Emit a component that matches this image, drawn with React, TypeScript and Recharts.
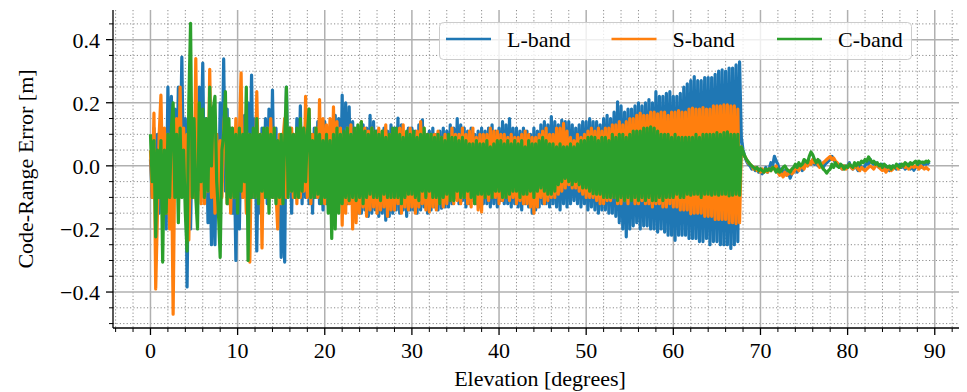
import { LineChart, Line, XAxis, YAxis, CartesianGrid, Legend } from "recharts";

// samples are spaced evenly in elevation, starting at 0 deg
const ELEVATION_STEP = 0.2;

// one row = 2 degrees of elevation
const L_BAND = [
  0.02, -0.1, 0.12, -0.08, 0.1, -0.15, 0.13, -0.12, 0.08, -0.2,
  0.25, -0.05, 0.22, -0.1, 0.18, -0.08, 0.25, 0.0, 0.345, -0.05,
  0.15, -0.384, 0.1, -0.2, 0.12, -0.1, 0.2, -0.05, 0.25, 0.02,
  0.326, -0.1, 0.15, -0.18, 0.05, -0.25, 0.08, -0.25, 0.1, -0.15,
  0.2, -0.05, 0.339, -0.08, 0.18, -0.12, 0.12, -0.15, 0.05, -0.3,
  0.08, -0.2, 0.12, -0.1, 0.16, -0.08, 0.2, -0.05, 0.288, -0.1,
  0.15, -0.27, 0.1, -0.15, 0.12, -0.1, 0.15, -0.12, 0.18, -0.08,
  0.24, -0.1, 0.12, -0.15, 0.08, -0.29, 0.0, -0.305, 0.25, -0.05,
  0.12, -0.15, 0.1, -0.1, 0.15, -0.06, 0.19, -0.12, 0.12, -0.1,
  0.15, -0.12, 0.1, -0.15, 0.12, -0.1, 0.14, -0.12, 0.12, -0.14,
  0.14, -0.12, 0.12, -0.1, 0.13, -0.14, 0.16, -0.12, 0.15, -0.1,
  0.224, -0.14, 0.2, -0.12, 0.187, -0.1, 0.14, -0.13, 0.12, -0.15,
  0.1, -0.15, 0.13, -0.14, 0.12, -0.16, 0.16, -0.15, 0.14, -0.14,
  0.11, -0.16, 0.1, -0.15, 0.12, -0.172, 0.11, -0.16, 0.13, -0.15,
  0.12, -0.14, 0.151, -0.15, 0.13, -0.14, 0.1, -0.16, 0.12, -0.14,
  0.12, -0.14, 0.11, -0.15, 0.13, -0.14, 0.146, -0.13, 0.1, -0.15,
  0.11, -0.14, 0.12, -0.13, 0.1, -0.14, 0.11, -0.134, 0.12, -0.13,
  0.11, -0.13, 0.13, -0.12, 0.12, -0.1, 0.15, -0.12, 0.13, -0.11,
  0.12, -0.13, 0.11, -0.12, 0.12, -0.11, 0.1, -0.12, 0.11, -0.13,
  0.12, -0.12, 0.11, -0.12, 0.12, -0.13, 0.13, -0.12, 0.11, -0.13,
  0.12, -0.11, 0.14, -0.12, 0.13, -0.12, 0.15, -0.13, 0.12, -0.12,
  0.12, -0.13, 0.11, -0.14, 0.12, -0.12, 0.11, -0.13, 0.1, -0.15,
  0.12, -0.14, 0.11, -0.13, 0.13, -0.12, 0.14, -0.12, 0.13, -0.13,
  0.156, -0.12, 0.14, -0.13, 0.13, -0.14, 0.145, -0.12, 0.14, -0.13,
  0.14, -0.12, 0.13, -0.11, 0.12, -0.12, 0.13, -0.13, 0.14, -0.12,
  0.14, -0.14, 0.15, -0.13, 0.14, -0.14, 0.14, -0.15, 0.13, -0.14,
  0.15, -0.14, 0.16, -0.15, 0.15, -0.15, 0.17, -0.16, 0.203, -0.18,
  0.19, -0.2, 0.17, -0.225, 0.18, -0.2, 0.18, -0.19, 0.19, -0.18,
  0.2, -0.2, 0.19, -0.19, 0.2, -0.19, 0.21, -0.2, 0.2, -0.2,
  0.235, -0.21, 0.22, -0.2, 0.22, -0.21, 0.23, -0.22, 0.235, -0.22,
  0.22, -0.236, 0.22, -0.22, 0.23, -0.22, 0.25, -0.22, 0.26, -0.23,
  0.27, -0.23, 0.283, -0.23, 0.27, -0.24, 0.27, -0.24, 0.28, -0.23,
  0.28, -0.25, 0.28, -0.24, 0.29, -0.24, 0.3, -0.25, 0.304, -0.25,
  0.3, -0.25, 0.31, -0.262, 0.31, -0.25, 0.32, -0.24, 0.33, 0.09,
  0.05, 0.03, 0.015, 0.005, 0.0, -0.01, -0.005, -0.015, -0.01, -0.02,
  -0.01, -0.025, -0.015, -0.005, -0.02, -0.01, 0.01, 0.0, 0.03, 0.015,
  0.005, -0.02, -0.01, -0.025, -0.015, -0.03, -0.02, -0.039, -0.025, -0.02,
  -0.005, -0.02, -0.01, 0.0, -0.015, -0.005, 0.01, 0.0, 0.015, 0.005,
  0.02, 0.005, 0.01, 0.0, 0.015, 0.0, -0.005, 0.005, 0.01, 0.015,
  0.02, 0.03, 0.02, 0.01, 0.0, 0.005, -0.005, -0.01, 0.0, -0.005,
  0.0, 0.01, -0.005, -0.01, 0.0, -0.005, -0.015, 0.005, -0.005, -0.01,
  0.0, 0.01, 0.005, 0.02, 0.01, 0.005, 0.01, 0.0, -0.005, 0.005,
  0.005, -0.01, 0.0, -0.005, -0.015, -0.005, 0.0, -0.005, -0.01, 0.0,
  0.005, -0.005, 0.0, -0.01, -0.005, 0.005, -0.01, 0.0, -0.014, -0.005,
  0.0, 0.005, -0.005, 0.0, 0.01, 0.005, 0.01, 0.005,
];

const S_BAND = [
  0.05, -0.1, 0.167, -0.39, -0.15, 0.1, 0.224, -0.05, 0.12, -0.15,
  0.1, -0.2, 0.05, -0.47, 0.05, 0.15, -0.1, 0.25, -0.05, 0.12,
  -0.05, 0.1, -0.235, 0.05, 0.1, -0.1, 0.34, -0.08, 0.15, -0.12,
  0.15, -0.12, 0.1, -0.08, 0.306, -0.1, 0.12, -0.15, 0.1, -0.15,
  0.08, -0.1, 0.12, 0.2, -0.12, 0.1, -0.15, 0.12, -0.1, 0.15,
  -0.05, 0.1, 0.295, -0.1, 0.05, -0.15, 0.1, -0.305, 0.08, 0.1,
  -0.1, 0.235, -0.05, 0.1, -0.26, 0.1, -0.08, 0.12, -0.1, 0.15,
  -0.1, 0.12, -0.08, -0.2, 0.1, -0.12, 0.08, 0.15, -0.1, 0.12,
  -0.08, 0.12, -0.1, 0.1, -0.12, 0.08, -0.1, 0.12, -0.08, 0.22,
  -0.1, 0.18, -0.12, 0.1, -0.08, 0.12, -0.1, 0.21, -0.1, 0.15,
  -0.12, 0.13, -0.1, 0.15, -0.12, 0.187, -0.1, 0.14, -0.12, 0.12,
  -0.188, 0.1, -0.15, 0.12, -0.12, 0.13, -0.2, 0.1, -0.18, 0.12,
  -0.15, 0.14, -0.13, 0.12, -0.16, 0.11, -0.14, 0.12, -0.13, 0.1,
  -0.15, 0.12, -0.14, 0.11, -0.13, 0.13, -0.16, 0.1, -0.14, 0.11,
  -0.14, 0.11, -0.12, 0.12, -0.15, 0.13, -0.13, 0.1, -0.14, 0.12,
  -0.13, 0.1, -0.15, 0.11, -0.13, 0.14, -0.12, 0.12, -0.14, 0.1,
  -0.146, 0.1, -0.13, 0.1, -0.14, 0.11, -0.12, 0.09, -0.13, 0.1,
  -0.12, 0.09, -0.11, 0.12, -0.12, 0.1, -0.11, 0.1, -0.12, 0.12,
  -0.1, 0.1, -0.12, 0.11, -0.13, 0.12, -0.12, 0.09, -0.14, 0.1,
  -0.146, 0.1, -0.1, 0.1, -0.11, 0.12, -0.1, 0.11, -0.1, 0.11,
  -0.12, 0.1, -0.11, 0.1, -0.1, 0.09, -0.11, 0.1, -0.1, 0.09,
  -0.12, 0.09, -0.11, 0.1, -0.12, 0.11, -0.12, 0.1, -0.13, 0.09,
  -0.15, 0.09, -0.13, 0.1, -0.1, 0.11, -0.12, 0.12, -0.11, 0.1,
  -0.1, 0.1, -0.1, 0.12, -0.09, 0.12, -0.08, 0.135, -0.07, 0.11,
  -0.06, 0.09, -0.07, 0.08, -0.07, 0.1, -0.08, 0.09, -0.09, 0.1,
  -0.1, 0.11, -0.1, 0.12, -0.1, 0.11, -0.11, 0.12, -0.12, 0.11,
  -0.12, 0.12, -0.11, 0.12, -0.11, 0.13, -0.1, 0.13, -0.12, 0.14,
  -0.12, 0.13, -0.11, 0.14, -0.12, 0.15, -0.1, 0.15, -0.12, 0.16,
  -0.12, 0.167, -0.11, 0.16, -0.12, 0.16, -0.12, 0.17, -0.13, 0.17,
  -0.12, 0.165, -0.12, 0.17, -0.13, 0.17, -0.13, 0.16, -0.12, 0.17,
  -0.13, 0.17, -0.13, 0.175, -0.14, 0.17, -0.14, 0.17, -0.14, 0.18,
  -0.152, 0.183, -0.15, 0.18, -0.15, 0.18, -0.15, 0.185, -0.16, 0.18,
  -0.16, 0.18, -0.16, 0.19, -0.17, 0.19, -0.17, 0.19, -0.17, 0.193,
  -0.17, 0.193, -0.18, 0.19, -0.18, 0.19, -0.183, 0.18, -0.18, 0.06,
  0.04, 0.03, 0.02, 0.01, 0.005, 0.0, -0.01, -0.005, -0.015, -0.01,
  -0.02, -0.01, -0.02, -0.015, -0.02, -0.01, -0.015, -0.005, -0.01, 0.0,
  -0.02, -0.03, -0.025, -0.035, -0.02, -0.03, -0.025, -0.015, -0.025, -0.02,
  -0.01, -0.005, -0.015, -0.005, 0.0, -0.01, 0.005, 0.0, 0.015, 0.005,
  0.02, 0.01, 0.015, 0.005, -0.005, 0.005, 0.01, 0.015, 0.02, 0.025,
  0.03, 0.02, 0.025, 0.015, 0.01, 0.0, -0.005, -0.01, 0.0, -0.01,
  -0.005, 0.005, -0.005, -0.01, -0.005, 0.0, -0.01, -0.015, -0.005, -0.01,
  -0.016, -0.01, -0.005, 0.0, -0.005, -0.01, 0.0, 0.005, -0.005, -0.01,
  -0.015, -0.01, -0.02, -0.01, -0.005, -0.015, -0.01, -0.005, 0.0, -0.01,
  -0.005, 0.0, 0.005, -0.005, 0.0, -0.01, -0.005, 0.005, -0.005, 0.0,
  -0.005, -0.01, 0.0, -0.005, -0.01, -0.005, -0.01, -0.014,
];

const C_BAND = [
  0.1, -0.05, 0.08, -0.225, 0.05, -0.1, 0.08, -0.305, 0.05, -0.15,
  0.1, -0.1, 0.12, 0.2, -0.1, 0.1, -0.18, 0.12, -0.1, 0.05,
  -0.15, -0.27, 0.2, 0.452, -0.1, 0.15, -0.1, -0.2, 0.2, -0.05,
  0.18, -0.1, 0.15, -0.08, 0.25, 0.0, 0.18, 0.22, -0.05, -0.15,
  -0.29, 0.05, 0.1, 0.235, -0.12, 0.15, -0.1, 0.12, -0.1, 0.1,
  -0.15, 0.12, -0.08, 0.1, -0.05, 0.25, -0.3, 0.1, -0.1, 0.12,
  -0.1, 0.15, -0.12, 0.1, -0.08, 0.12, -0.1, 0.12, -0.15, 0.1,
  -0.1, 0.12, -0.12, 0.08, -0.1, 0.1, -0.12, 0.08, 0.25, -0.1,
  0.12, -0.08, 0.1, -0.1, 0.12, -0.1, 0.15, -0.08, 0.12, -0.05,
  0.1, 0.18, -0.1, 0.08, -0.1, 0.12, -0.09, 0.1, -0.12, 0.08,
  -0.1, 0.1, -0.15, 0.08, -0.23, 0.1, -0.2, 0.12, -0.15, 0.1,
  -0.12, 0.11, -0.1, 0.12, -0.11, 0.1, -0.1, 0.12, -0.11, 0.13,
  -0.1, 0.14, -0.12, 0.11, -0.1, 0.1, -0.09, 0.12, -0.1, 0.11,
  -0.1, 0.1, -0.11, 0.11, -0.09, 0.09, -0.1, 0.1, -0.1, 0.12,
  -0.1, 0.12, -0.1, 0.1, -0.12, 0.09, -0.1, 0.11, -0.09, 0.1,
  -0.09, 0.11, -0.1, 0.09, -0.11, 0.1, -0.08, 0.12, -0.1, 0.1,
  -0.08, 0.1, -0.1, 0.09, -0.1, 0.1, -0.12, 0.09, -0.1, 0.08,
  -0.09, 0.1, -0.11, 0.09, -0.11, 0.09, -0.08, 0.08, -0.1, 0.09,
  -0.1, 0.08, -0.08, 0.07, -0.1, 0.07, -0.12, 0.08, -0.09, 0.07,
  -0.09, 0.07, -0.1, 0.08, -0.09, 0.06, -0.1, 0.07, -0.08, 0.08,
  -0.08, 0.08, -0.1, 0.07, -0.1, 0.08, -0.09, 0.07, -0.08, 0.08,
  -0.08, 0.07, -0.1, 0.08, -0.09, 0.06, -0.09, 0.08, -0.08, 0.07,
  -0.1, 0.07, -0.08, 0.08, -0.07, 0.09, -0.08, 0.08, -0.09, 0.07,
  -0.09, 0.07, -0.08, 0.06, -0.06, 0.07, -0.05, 0.06, -0.04, 0.06,
  -0.05, 0.07, -0.06, 0.06, -0.05, 0.07, -0.06, 0.08, -0.07, 0.08,
  -0.07, 0.09, -0.08, 0.092, -0.088, 0.09, -0.09, 0.08, -0.09, 0.09,
  -0.1, 0.09, -0.1, 0.08, -0.1, 0.1, -0.1, 0.09, -0.11, 0.1,
  -0.1, 0.1, -0.11, 0.09, -0.1, 0.1, -0.11, 0.11, -0.1, 0.11,
  -0.11, 0.11, -0.1, 0.12, -0.11, 0.12, -0.1, 0.124, -0.11, 0.12,
  -0.11, 0.11, -0.1, 0.1, -0.11, 0.1, -0.1, 0.1, -0.1, 0.09,
  -0.1, 0.1, -0.09, 0.09, -0.1, 0.09, -0.1, 0.09, -0.09, 0.09,
  -0.093, 0.09, -0.09, 0.1, -0.09, 0.09, -0.1, 0.1, -0.09, 0.1,
  -0.09, 0.1, -0.093, 0.1, -0.09, 0.105, -0.093, 0.1, -0.09, 0.105,
  -0.09, 0.108, -0.095, 0.1, -0.093, 0.1, -0.09, 0.1, -0.093, 0.06,
  0.045, 0.03, 0.02, 0.013, 0.005, 0.0, -0.005, -0.01, -0.005, -0.015,
  -0.01, -0.015, -0.02, -0.01, -0.015, -0.01, -0.015, -0.005, -0.01, -0.02,
  -0.01, -0.02, -0.015, -0.005, 0.0, -0.01, -0.015, -0.02, -0.01, -0.005,
  0.005, -0.005, 0.01, 0.0, 0.005, 0.02, 0.015, 0.01, 0.03, 0.044,
  0.035, 0.02, 0.01, 0.02, 0.01, 0.0, -0.01, -0.015, -0.023, -0.015,
  -0.01, 0.005, -0.005, 0.01, 0.0, -0.005, 0.005, 0.0, -0.01, 0.0,
  -0.005, 0.005, 0.0, -0.005, 0.01, 0.0, 0.01, 0.005, 0.015, 0.01,
  0.02, 0.015, 0.028, 0.02, 0.01, 0.015, 0.005, 0.01, 0.0, 0.005,
  -0.005, 0.005, 0.0, -0.005, 0.0, -0.01, 0.0, -0.005, 0.005, 0.0,
  -0.005, 0.005, 0.0, 0.01, 0.005, 0.0, 0.01, 0.005, 0.01, 0.015,
  0.005, 0.015, 0.01, 0.012, 0.01, 0.015, 0.012, 0.018,
];

const X_TICKS = [
  -4, -2, 0, 2, 4, 6, 8, 10, 12, 14, 16, 18, 20, 22, 24, 26, 28, 30, 32, 34,
  36, 38, 40, 42, 44, 46, 48, 50, 52, 54, 56, 58, 60, 62, 64, 66, 68, 70, 72,
  74, 76, 78, 80, 82, 84, 86, 88, 90, 92,
];
const X_MAJOR = [0, 10, 20, 30, 40, 50, 60, 70, 80, 90];
const Y_TICKS = [
  -0.5, -0.45, -0.4, -0.35, -0.3, -0.25, -0.2, -0.15, -0.1, -0.05, 0, 0.05,
  0.1, 0.15, 0.2, 0.25, 0.3, 0.35, 0.4, 0.45,
];
const Y_MAJOR = [-0.4, -0.2, 0, 0.2, 0.4];

const SERIES = [
  { key: "L", name: "L-band", color: "#1f77b4" },
  { key: "S", name: "S-band", color: "#ff7f0e" },
  { key: "C", name: "C-band", color: "#2ca02c" },
];

const FONT = "'Liberation Serif', 'DejaVu Serif', serif";
const X_DOMAIN: [number, number] = [-4.3, 93.7];
const Y_DOMAIN: [number, number] = [-0.514, 0.494];

const isIn = (list: number[], v: number) => list.some((m) => Math.abs(m - v) < 1e-9);
const X_MINOR = X_TICKS.filter((v) => !isIn(X_MAJOR, v));
const Y_MINOR = Y_TICKS.filter((v) => !isIn(Y_MAJOR, v));

const data = L_BAND.map((l, i) => ({
  elevation: Math.round(i * ELEVATION_STEP * 10) / 10,
  L: l,
  S: S_BAND[i],
  C: C_BAND[i],
}));

function XTick(props: any) {
  const { x, y, payload } = props;
  const major = isIn(X_MAJOR, payload.value);
  return (
    <g>
      <line x1={x} x2={x} y1={y} y2={y + (major ? 7 : 4)} stroke="#000" strokeWidth={major ? 1.3 : 1} />
      {major && (
        <text x={x} y={y + 30} textAnchor="middle" fontSize={22} fontFamily={FONT} fill="#000">
          {payload.value}
        </text>
      )}
    </g>
  );
}

function YTick(props: any) {
  const { x, y, payload } = props;
  const v = payload.value as number;
  const major = isIn(Y_MAJOR, v);
  const label = (v < 0 ? "\u2212" : "") + Math.abs(v).toFixed(1);
  return (
    <g>
      <line x1={x} x2={x - (major ? 7 : 4)} y1={y} y2={y} stroke="#000" strokeWidth={major ? 1.3 : 1} />
      {major && (
        <text x={x - 13} y={y + 8} textAnchor="end" fontSize={22} fontFamily={FONT} fill="#000">
          {label}
        </text>
      )}
    </g>
  );
}

function LegendBox() {
  return (
    <svg width={473} height={38} style={{ display: "block" }}>
      <rect x={0.5} y={0.5} width={472} height={37} rx={4} fill="#fff" fillOpacity={0.8} stroke="#cccccc" />
      {SERIES.map((s, i) => (
        <g key={s.key}>
          <line x1={7 + 165.5 * i} x2={52 + 165.5 * i} y1={17} y2={17} stroke={s.color} strokeWidth={2.7} />
          <text x={68 + 165.5 * i} y={25} fontSize={22} fontFamily={FONT} fill="#000">
            {s.name}
          </text>
        </g>
      ))}
    </svg>
  );
}

export default function App() {
  return (
    <div style={{ width: 959, height: 384, fontFamily: FONT }}>
      <LineChart width={959} height={384} data={data} margin={{ top: 2, right: 0, bottom: 0, left: 0 }}>
        <CartesianGrid
          verticalValues={X_MINOR}
          horizontalValues={Y_MINOR}
          stroke="#8c8c8c"
          strokeWidth={1}
          strokeDasharray="1.2 2.2"
        />
        <CartesianGrid verticalValues={X_MAJOR} horizontalValues={Y_MAJOR} stroke="#b0b0b0" strokeWidth={1.5} />
        <XAxis
          dataKey="elevation"
          type="number"
          domain={X_DOMAIN}
          allowDataOverflow
          ticks={X_TICKS}
          interval={0}
          tickSize={0}
          tickMargin={0}
          tick={<XTick />}
          height={64}
          axisLine={{ stroke: "#000", strokeWidth: 1.3 }}
          label={{
            value: "Elevation [degrees]",
            position: "insideBottom",
            offset: 6,
            fontSize: 22,
            fontFamily: FONT,
            fill: "#000",
          }}
        />
        <XAxis
          xAxisId="top"
          orientation="top"
          type="number"
          domain={X_DOMAIN}
          allowDataOverflow
          height={0}
          tick={false}
          tickLine={false}
          axisLine={{ stroke: "#000", strokeWidth: 1.3 }}
        />
        <YAxis
          type="number"
          domain={Y_DOMAIN}
          allowDataOverflow
          ticks={Y_TICKS}
          interval={0}
          tickSize={0}
          tickMargin={0}
          tick={<YTick />}
          width={105}
          axisLine={{ stroke: "#000", strokeWidth: 1.3 }}
          label={{
            content: () => (
              <text
                x={25}
                y={161}
                transform="rotate(-90 25 161)"
                textAnchor="middle"
                fontSize={22}
                fontFamily={FONT}
                fill="#000"
              >
                Code-Range Error [m]
              </text>
            ),
          }}
        />
        <Legend
          layout="horizontal"
          verticalAlign="middle"
          align="center"
          wrapperStyle={{ left: 431, top: 14, width: 473, height: 38 }}
          content={<LegendBox />}
        />
        {SERIES.map((s) => (
          <Line
            key={s.key}
            dataKey={s.key}
            name={s.name}
            stroke={s.color}
            strokeWidth={3.2}
            strokeLinejoin="round"
            dot={false}
            isAnimationActive={false}
          />
        ))}
      </LineChart>
    </div>
  );
}
